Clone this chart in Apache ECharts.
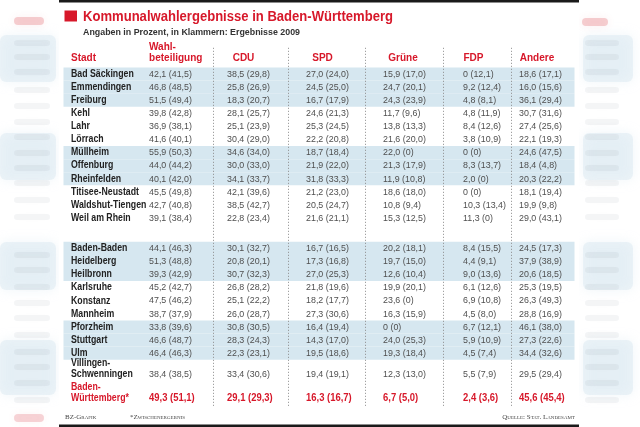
<!DOCTYPE html>
<html><head><meta charset="utf-8">
<script src="https://cdn.jsdelivr.net/npm/echarts@6/dist/echarts.min.js"></script>
<style>html,body{margin:0;padding:0;background:#fff}#c{width:640px;height:427px}</style>
</head><body><div id="c"></div>
<script>
// ---------- DATA ----------
const cities = ['Bad Säckingen','Emmendingen','Freiburg','Kehl','Lahr','Lörrach','Müllheim','Offenburg','Rheinfelden','Titisee-Neustadt','Waldshut-Tiengen','Weil am Rhein',
  'Baden-Baden','Heidelberg','Heilbronn','Karlsruhe','Konstanz','Mannheim','Pforzheim','Stuttgart','Ulm','Villingen-\nSchwenningen','Baden-\nWürttemberg*'];
const headers = ['Stadt','Wahl-\nbeteiligung','CDU','SPD','Grüne','FDP','Andere'];
const wahlNow  = [42.1,46.8,51.5,39.8,36.9,41.6,55.9,44.0,40.1,45.5,42.7,39.1,44.1,51.3,39.3,45.2,47.5,38.7,33.8,46.6,46.4,38.4,49.3];
const wahlPrev = [41.5,48.5,49.4,42.8,38.1,40.1,50.3,44.2,42.0,49.8,40.8,38.4,46.3,48.8,42.9,42.7,46.2,37.9,39.6,48.7,46.3,38.5,51.1];
const cduNow   = [38.5,25.8,18.3,28.1,25.1,30.4,34.6,30.0,34.1,42.1,38.5,22.8,30.1,20.8,30.7,26.8,25.1,26.0,30.8,28.3,22.3,33.4,29.1];
const cduPrev  = [29.8,26.9,20.7,25.7,23.9,29.0,34.0,33.0,33.7,39.6,42.7,23.4,32.7,20.1,32.3,28.2,22.2,28.7,30.5,24.3,23.1,30.6,29.3];
const spdNow   = [27.0,24.5,16.7,24.6,25.3,22.2,18.7,21.9,31.8,21.2,20.5,21.6,16.7,17.3,27.0,21.8,18.2,27.3,16.4,14.3,19.5,19.4,16.3];
const spdPrev  = [24.0,25.0,17.9,21.3,24.5,20.8,18.4,22.0,33.3,23.0,24.7,21.1,16.5,16.8,25.3,19.6,17.7,30.6,19.4,17.0,18.6,19.1,16.7];
const grueneNow  = [15.9,24.7,24.3,11.7,13.8,21.6,22.0,21.3,11.9,18.6,10.8,15.3,20.2,19.7,12.6,19.9,23.6,16.3,0,24.0,19.3,12.3,6.7];
const gruenePrev = [17.0,20.1,23.9,9.6,13.3,20.0,0,17.9,10.8,18.0,9.4,12.5,18.1,15.0,10.4,20.1,0,15.9,0,25.3,18.4,13.0,5.0];
const fdpNow   = [0,9.2,4.8,4.8,8.4,3.8,0,8.3,2.0,0,10.3,11.3,8.4,4.4,9.0,6.1,6.9,4.5,6.7,5.9,4.5,5.5,2.4];
const fdpPrev  = [12.1,12.4,8.1,11.9,12.6,10.9,0,13.7,0,0,13.4,0,15.5,9.1,13.6,12.6,10.8,8.0,12.1,10.9,7.4,7.9,3.6];
const andereNow  = [18.6,16.0,36.1,30.7,27.4,22.1,24.6,18.4,20.3,18.1,19.9,29.0,24.5,37.9,20.6,25.3,26.3,28.8,46.1,27.3,34.4,29.5,45.6];
const anderePrev = [17.1,15.6,29.4,31.6,25.6,19.3,47.5,4.8,22.2,19.4,9.8,43.1,17.3,38.9,18.5,19.5,49.3,16.9,38.0,22.6,32.6,29.4,45.4];

// ---------- LAYOUT ----------
const COLX = [71,149,227,306,383,463,519];
const HEADCX = [243.5,322.5,403,473.5,537];
const SEPX = [213,288,365,443,511];
const RED = '#d7182a', BLUE = '#d6e7f0';
const FAM = '"Liberation Sans",Arial,sans-serif';
const F_TITLE = 'bold 14.5px '+FAM, F_SUB = 'bold 8.5px '+FAM, F_HEAD = 'bold 11.5px '+FAM,
      F_NAME = 'bold 10px '+FAM, F_VAL = '9.8px '+FAM, F_TVAL = 'bold 10px '+FAM;
const mctx = document.createElement('canvas').getContext('2d');
function fit(font, sample, target){ mctx.font = font; return target / mctx.measureText(sample).width; }
const S_TITLE = fit(F_TITLE,'Kommunalwahlergebnisse in Baden-Württemberg',310);
const S_SUB = fit(F_SUB,'Angaben in Prozent, in Klammern: Ergebnisse 2009',217);
const S_HEAD = fit(F_HEAD,'beteiligung',53.5);
const S_NAME = (fit(F_NAME,'Bad Säckingen',62)+fit(F_NAME,'Waldshut-Tiengen',75.7)+fit(F_NAME,'Schwenningen',62.3))/3;
const S_VAL = fit(F_VAL,'38,5 (29,8)',43);
const S_TVAL = fit(F_TVAL,'49,3 (51,1)',45.7);

function rowPos(i){ if(i<12) return i; if(i<21) return i+1.31; if(i===21) return 22.9; return 24.73; }
function fmt(v){ return v===0 ? '0' : v.toFixed(1).replace('.',','); }
const cols = [[wahlNow,wahlPrev],[cduNow,cduPrev],[spdNow,spdPrev],[grueneNow,gruenePrev],[fdpNow,fdpPrev],[andereNow,anderePrev]];

const cells = [];
cities.forEach((c,r)=>{
  const total = r===cities.length-1;
  cells.push({value:[COLX[0], rowPos(r)], text:c, kind: total?'tname':'name', multi: c.indexOf('\n')>=0});
  cols.forEach((pair,ci)=>{
    cells.push({value:[COLX[ci+1], rowPos(r)], text: fmt(pair[0][r])+' ('+fmt(pair[1][r])+')', kind: total?'tval':'val'});
  });
});
const bands = [];
for(let r=0;r<21;r++){ if(Math.floor(r/3)%2===0) bands.push({value:[63.5,574.5,rowPos(r)-0.5,rowPos(r)+0.5]}); }
const seps = SEPX.map(x=>({value:[x,-2.0,25.4]}));

const chart = echarts.init(document.getElementById('c'), null, {renderer:'canvas'});

// decorative blurred backdrop at the margins
const deco = [];
const lineYs = [43,57,72,90,106,122,137,153,168,183,200,217,255,270,287,303,318,335,352,367,383,400];
lineYs.forEach(y=>{
  deco.push({type:'rect', shape:{x:14,y:y-3,width:36,height:6,r:3}, style:{fill:'rgba(120,130,140,0.08)',shadowBlur:8,shadowColor:'rgba(120,130,140,0.15)'}, silent:true, z:-10});
  deco.push({type:'rect', shape:{x:585,y:y-3,width:34,height:6,r:3}, style:{fill:'rgba(120,130,140,0.08)',shadowBlur:8,shadowColor:'rgba(120,130,140,0.15)'}, silent:true, z:-10});
});
[[35,82],[133,180],[242,290],[340,395]].forEach(b=>{
  deco.push({type:'rect', shape:{x:0,y:b[0],width:56,height:b[1]-b[0],r:6}, style:{fill:'rgba(214,231,240,0.45)',shadowBlur:12,shadowColor:'rgba(214,231,240,0.8)'}, silent:true, z:-11});
  deco.push({type:'rect', shape:{x:583,y:b[0],width:50,height:b[1]-b[0],r:6}, style:{fill:'rgba(214,231,240,0.45)',shadowBlur:12,shadowColor:'rgba(214,231,240,0.8)'}, silent:true, z:-11});
});
deco.push({type:'rect', shape:{x:14,y:17,width:30,height:8,r:4}, style:{fill:'rgba(220,70,80,0.25)',shadowBlur:8,shadowColor:'rgba(220,70,80,0.35)'}, silent:true, z:-10});
deco.push({type:'rect', shape:{x:582,y:18,width:26,height:8,r:4}, style:{fill:'rgba(220,70,80,0.25)',shadowBlur:8,shadowColor:'rgba(220,70,80,0.35)'}, silent:true, z:-10});
deco.push({type:'rect', shape:{x:14,y:414,width:30,height:8,r:4}, style:{fill:'rgba(220,70,80,0.22)',shadowBlur:8,shadowColor:'rgba(220,70,80,0.3)'}, silent:true, z:-10});
deco.push({type:'rect', shape:{x:59,y:0,width:520,height:427}, style:{fill:'#fff'}, silent:true, z:-5});

const headerEls = [];
headers.forEach((h,i)=>{
  if(i===0){
    headerEls.push({type:'text', x:COLX[0], y:57.5, scaleX:S_HEAD, style:{text:h, fill:RED, font:F_HEAD, verticalAlign:'middle'}});
  } else if(i===1){
    const parts = h.split('\n');
    headerEls.push({type:'text', x:COLX[1], y:47.3, scaleX:S_HEAD, style:{text:parts[0], fill:RED, font:F_HEAD, verticalAlign:'middle'}});
    headerEls.push({type:'text', x:COLX[1], y:57.5, scaleX:S_HEAD, style:{text:parts[1], fill:RED, font:F_HEAD, verticalAlign:'middle'}});
  } else {
    headerEls.push({type:'text', x:HEADCX[i-2], y:57.5, scaleX:S_HEAD, style:{text:h, fill:RED, font:F_HEAD, align:'center', verticalAlign:'middle'}});
  }
});

const option = {
  animation:false,
  grid:{left:0,right:0,top:8.5,bottom:12.4},
  xAxis:{type:'value',min:0,max:640,show:false},
  yAxis:{type:'value',inverse:true,min:-5,max:26,show:false},
  graphic:{elements:[
    ...deco,
    {type:'rect', shape:{x:59,y:0,width:520,height:2.5}, style:{fill:'#1a1a1a'}},
    {type:'rect', shape:{x:59,y:424.5,width:520,height:2.5}, style:{fill:'#1a1a1a'}},
    {type:'rect', shape:{x:64.5,y:10.5,width:12.5,height:11}, style:{fill:RED}},
    {type:'text', x:83, y:16.8, scaleX:S_TITLE, style:{text:'Kommunalwahlergebnisse in Baden-Württemberg', fill:RED, font:F_TITLE, verticalAlign:'middle'}},
    {type:'text', x:83, y:32.5, scaleX:S_SUB, style:{text:'Angaben in Prozent, in Klammern: Ergebnisse 2009', fill:'#333', font:F_SUB, verticalAlign:'middle'}},
    ...headerEls,
    {type:'text', x:65, y:417, style:{text:'BZ-Grafik', fill:'#444', font:'small-caps 7px "Liberation Serif",serif', verticalAlign:'middle'}},
    {type:'text', x:130, y:417, style:{text:'*Zwischenergebnis', fill:'#444', font:'small-caps 7px "Liberation Serif",serif', verticalAlign:'middle'}},
    {type:'text', x:575, y:417, style:{text:'Quelle: Stat. Landesamt', fill:'#444', font:'small-caps 7px "Liberation Serif",serif', align:'right', verticalAlign:'middle'}}
  ]},
  series:[
    {type:'custom', name:'bands', silent:true, z:1, data:bands,
     renderItem:function(params,api){
       const a=api.coord([api.value(0),api.value(2)]), b=api.coord([api.value(1),api.value(3)]);
       return {type:'rect', shape:{x:a[0],y:a[1],width:b[0]-a[0],height:b[1]-a[1]}, style:{fill:BLUE}};
     }},
    {type:'custom', name:'separators', silent:true, z:2, data:seps,
     renderItem:function(params,api){
       const a=api.coord([api.value(0),api.value(1)]), b=api.coord([api.value(0),api.value(2)]);
       const x=Math.round(a[0])+0.5;
       return {type:'line', shape:{x1:x,y1:a[1],x2:x,y2:b[1]}, style:{stroke:'#8a8a8a',lineWidth:1,lineDash:[1,2]}};
     }},
    {type:'custom', name:'cells', silent:true, z:3, data:cells,
     renderItem:function(params,api){
       const d=cells[params.dataIndex];
       const p=api.coord([api.value(0),api.value(1)]);
       let fill='#4f4f4f', font=F_VAL, s=S_VAL;
       if(d.kind==='name'){ fill='#222'; font=F_NAME; s=S_NAME; }
       if(d.kind==='tname'){ fill=RED; font=F_NAME; s=S_NAME; }
       if(d.kind==='tval'){ fill=RED; font=F_TVAL; s=S_TVAL; }
       if(d.multi){
         return {type:'text', x:p[0], y:p[1]+5.35, scaleX:s, style:{text:d.text, fill:fill, font:font, lineHeight:10.7, verticalAlign:'bottom'}};
       }
       return {type:'text', x:p[0], y:p[1], scaleX:s, style:{text:d.text, fill:fill, font:font, verticalAlign:'middle'}};
     }}
  ]
};
chart.setOption(option);
</script></body></html>
